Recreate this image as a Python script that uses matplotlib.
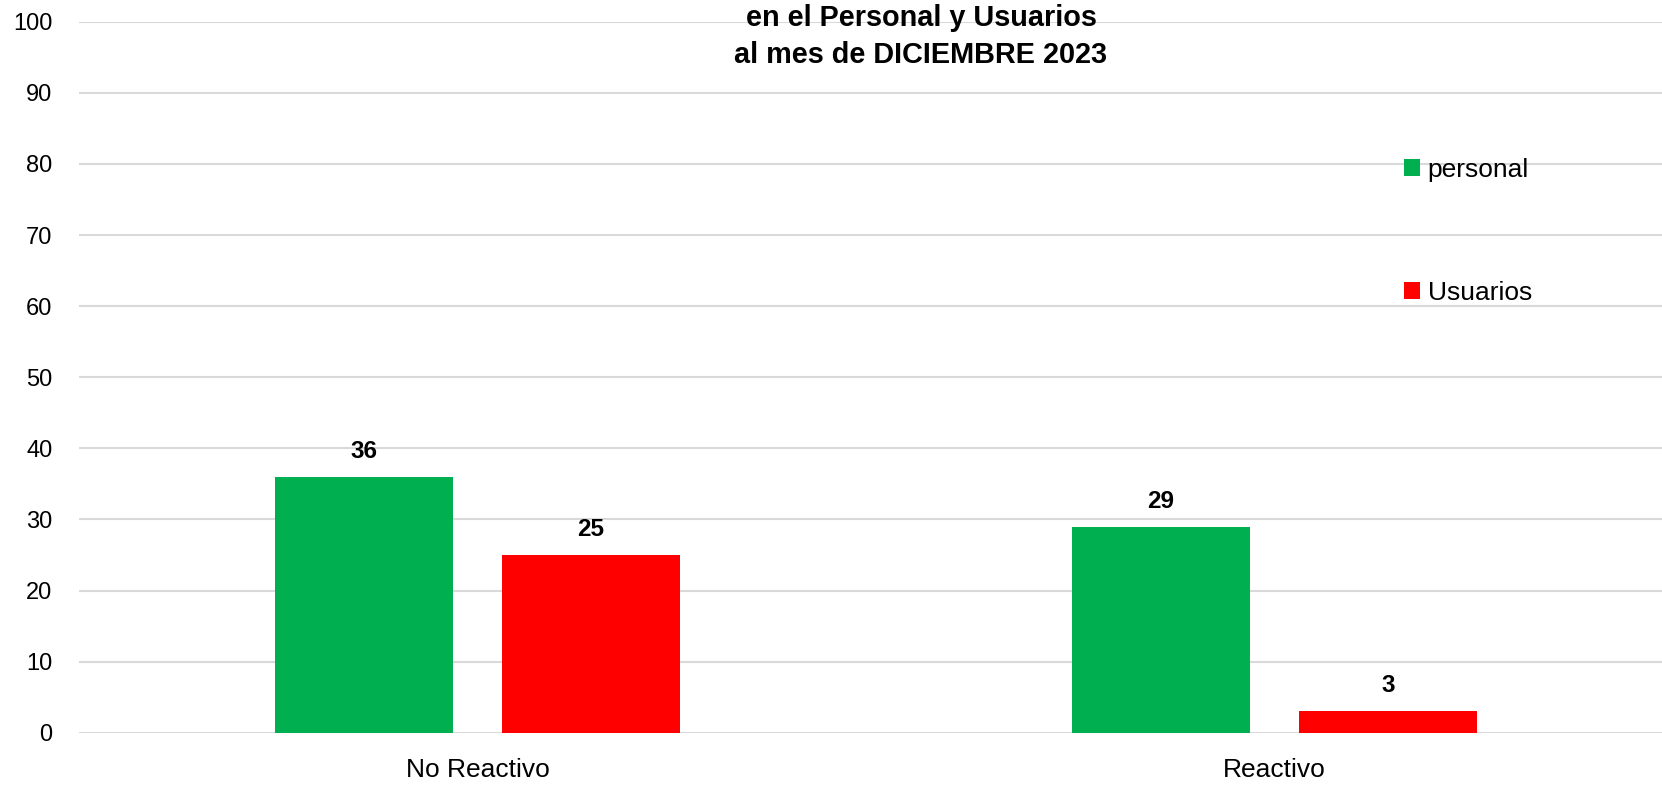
import matplotlib.pyplot as plt
import numpy as np

categories = ['No Reactivo', 'Reactivo']
personal = [36, 29]
usuarios = [25, 3]
title_lines = ['en el Personal y Usuarios', 'al mes de DICIEMBRE 2023']

plt.rcParams['font.family'] = ['Liberation Sans', 'DejaVu Sans']

fig = plt.figure(figsize=(16.62, 7.87), dpi=100)
ax = fig.add_axes([79 / 1662, 1 - 732.7 / 787, 1594 / 1662, (732.7 - 21.7) / 787])

x = np.arange(len(categories))
w = 0.224
off = 0.1425
b1 = ax.bar(x - off, personal, w, color='#00B050', label='personal', zorder=3)
b2 = ax.bar(x + off, usuarios, w, color='#FF0000', label='Usuarios', zorder=3)

for bars in (b1, b2):
    for r in bars:
        ax.annotate(f'{int(r.get_height())}', (r.get_x() + r.get_width() / 2, r.get_height()),
                    xytext=(0, 10), textcoords='offset points', ha='center', va='bottom',
                    fontsize=17.5, fontweight='bold')

ax.set_xlim(-0.5, 1.5)
ax.set_ylim(0, 100)
ax.set_yticks(range(0, 101, 10))
ax.set_xticks(x)
ax.set_xticklabels(categories, fontsize=19)
ax.tick_params(axis='y', labelsize=17, length=0, pad=19)
ax.tick_params(axis='x', length=0, pad=18)
ax.grid(axis='y', color='#d9d9d9', linewidth=1.5, zorder=0)
for s in ax.spines.values():
    s.set_visible(False)

# title is centred on the original (wider) chart, not on this crop
fig.text(921 / 1662, 1 - 18 / 787, title_lines[0], ha='center', va='center', fontsize=20.8, fontweight='bold')
fig.text(921 / 1662, 1 - 55 / 787, title_lines[1], ha='center', va='center', fontsize=20.8, fontweight='bold')

ax.legend(loc='upper left', bbox_to_anchor=(1380 / 1662, 1 - 134 / 787), bbox_transform=fig.transFigure,
          frameon=False, fontsize=19, handlelength=0.6, handleheight=0.6, handletextpad=0.3,
          labelspacing=3.75)

fig.savefig('out.png', dpi=100)
